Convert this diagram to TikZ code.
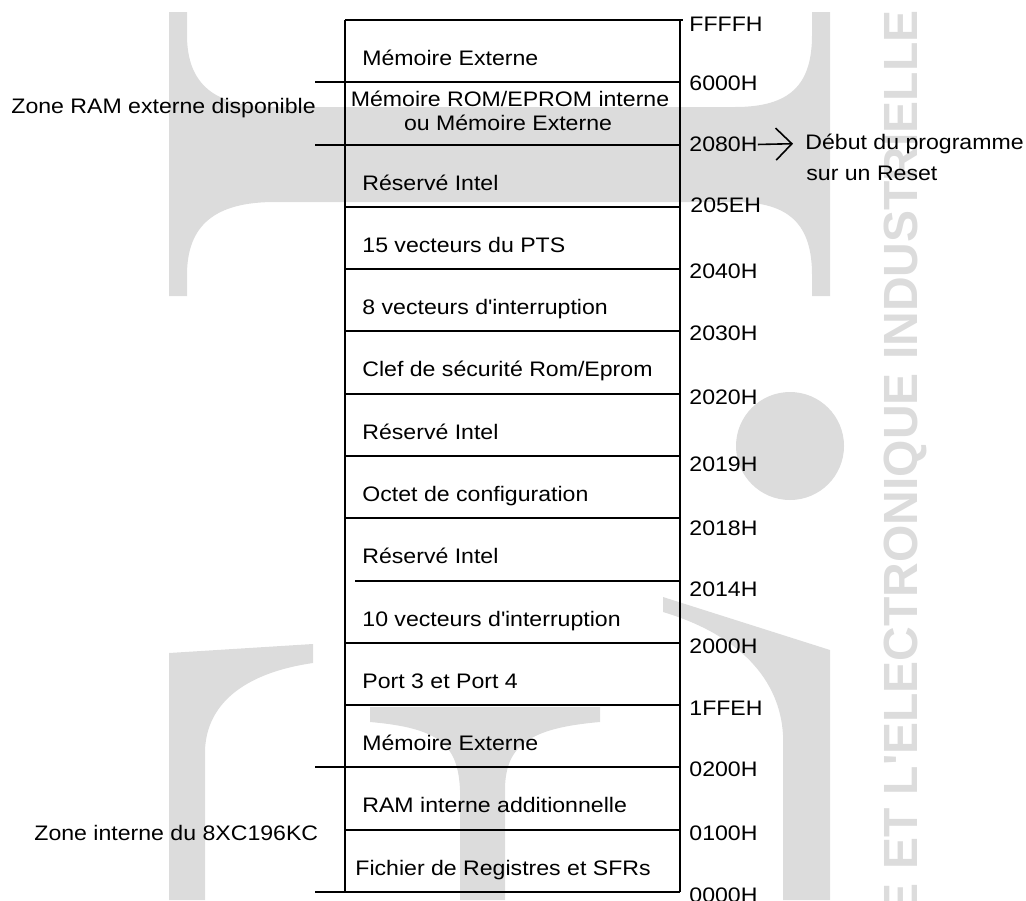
\documentclass[tikz,border=0pt]{standalone}
\usepackage{fontspec}
\setmainfont{Liberation Sans}[FakeStretch=1.1]
\newfontfamily\wmfont{Liberation Sans}
\usepackage{tikz}
\usetikzlibrary{arrows.meta}
\definecolor{cwater}{HTML}{DCDCDC}
\definecolor{cink}{HTML}{000000}

\begin{document}
\begin{tikzpicture}[x=0.5pt,y=-0.5pt,
  cell/.style={anchor=base west,inner sep=0pt,text=cink,font=\fontsize{10.5}{12}\selectfont},
  addr/.style={anchor=base west,inner sep=0pt,text=cink,font=\fontsize{10.5}{12}\selectfont},
  rule/.style={draw=cink,line width=1pt}]
  \useasboundingbox (0,0) rectangle (1026,900);
  % watermark
  \fill[cwater] (169,12) -- (187,12) -- (187,35) .. controls (187,85) and (215,107) .. (275,107)
    -- (735,107) .. controls (790,107) and (812,85) .. (812,35) -- (812,12) -- (830,12)
    -- (830,296) -- (812,296) -- (812,275) .. controls (812,225) and (790,202) .. (735,202)
    -- (275,202) .. controls (215,202) and (187,225) .. (187,275) -- (187,296) -- (169,296) -- cycle;
  \fill[cwater] (169,653) -- (313,644) -- (313,663) .. controls (250,672) and (207,700) .. (205,750)
    -- (205,900) -- (169,900) -- cycle;
  \fill[cwater] (370,707) -- (600,707) -- (600,722) .. controls (530,728) and (505,745) .. (505,790)
    -- (505,900) -- (460,900) -- (460,790) .. controls (458,745) and (440,728) .. (370,722) -- cycle;
  \fill[cwater] (663,597) -- (830,650) -- (830,900) -- (783,900) -- (783,735)
    .. controls (780,680) and (740,635) .. (663,612) -- cycle;
  \fill[cwater] (790,446) circle (54);
  \node[rotate=90,anchor=base east,inner sep=0pt,text=cwater,font=\wmfont\bfseries\fontsize{24}{28}\selectfont]
    (wmark) at (917,10) {E ET L\textquotesingle ELECTRONIQUE INDUSTRIELLE};
  % memory map
  \draw[rule] (345,20) -- (683,20);
  \draw[rule] (345,20) -- (345,892);
  \draw[rule] (680,20) -- (680,892);
  \draw[rule] (315,892) -- (680,892);
  \draw[rule] (315,82.3) -- (680,82.3);
  \draw[rule] (315,144.6) -- (680,144.6);
  \draw[rule] (345,206.9) -- (680,206.9);
  \draw[rule] (345,269.1) -- (680,269.1);
  \draw[rule] (345,331.4) -- (680,331.4);
  \draw[rule] (345,393.7) -- (680,393.7);
  \draw[rule] (345,456) -- (680,456);
  \draw[rule] (345,518.3) -- (680,518.3);
  \draw[rule] (355,580.6) -- (680,580.6);
  \draw[rule] (345,642.9) -- (680,642.9);
  \draw[rule] (345,705.2) -- (680,705.2);
  \draw[rule] (315,767.4) -- (680,767.4);
  \draw[rule] (345,829.7) -- (680,829.7);
  \node[cell] (extHigh) at (362,65.5) {Mémoire Externe};
  \node[cell,anchor=base] (rom) at (510,106) {Mémoire ROM/EPROM interne};
  \node[cell,anchor=base] (romExt) at (508,130.7) {ou Mémoire Externe};
  \node[cell] (resA) at (362,190.1) {Réservé Intel};
  \node[cell] (pts) at (362,252.4) {15 vecteurs du PTS};
  \node[cell] (vecA) at (362,314.6) {8 vecteurs d\textquotesingle interruption};
  \node[cell] (clef) at (362,376.9) {Clef de sécurité Rom/Eprom};
  \node[cell] (resB) at (362,439.2) {Réservé Intel};
  \node[cell] (octet) at (362,501.5) {Octet de configuration};
  \node[cell] (resC) at (362,563.8) {Réservé Intel};
  \node[cell] (vecB) at (362,626.1) {10 vecteurs d\textquotesingle interruption};
  \node[cell] (ports) at (362,688.4) {Port 3 et Port 4};
  \node[cell] (extLow) at (362,750.7) {Mémoire Externe};
  \node[cell] (ramInt) at (362,812.9) {RAM interne additionnelle};
  \node[cell] (regs) at (355,875.2) {Fichier de Registres et SFRs};
  % addresses
  \node[addr] (aFFFF) at (689,31) {FFFFH};
  \node[addr] (a6000) at (689,90) {6000H};
  \node[addr] (a2080) at (689,151.7) {2080H};
  \node[addr] (a205E) at (690,212.3) {205EH};
  \node[addr] (a2040) at (689,278.3) {2040H};
  \node[addr] (a2030) at (689,340) {2030H};
  \node[addr] (a2020) at (689,404) {2020H};
  \node[addr] (a2019) at (689,471.7) {2019H};
  \node[addr] (a2018) at (689,535) {2018H};
  \node[addr] (a2014) at (689,596.7) {2014H};
  \node[addr] (a2000) at (689,653) {2000H};
  \node[addr] (a1FFE) at (689,715) {1FFEH};
  \node[addr] (a0200) at (689,776.7) {0200H};
  \node[addr] (a0100) at (689,840) {0100H};
  \node[addr] (a0000) at (689,902) {0000H};
  % zones and reset
  \node[cell] (zoneRam) at (11,113.3) {Zone RAM externe disponible};
  \node[cell] (zoneInt) at (34,840) {Zone interne du 8XC196KC};
  \node[cell] (reset) at (805,149) {Début du programme};
  \node[cell] (resetB) at (806,180) {sur un Reset};
  \draw[draw=cink,line width=0.8pt,-{Straight Barb[length=8pt,width=16pt]},shorten >=6pt] (a2080.east) -- (reset.west);
\end{tikzpicture}
\end{document}
